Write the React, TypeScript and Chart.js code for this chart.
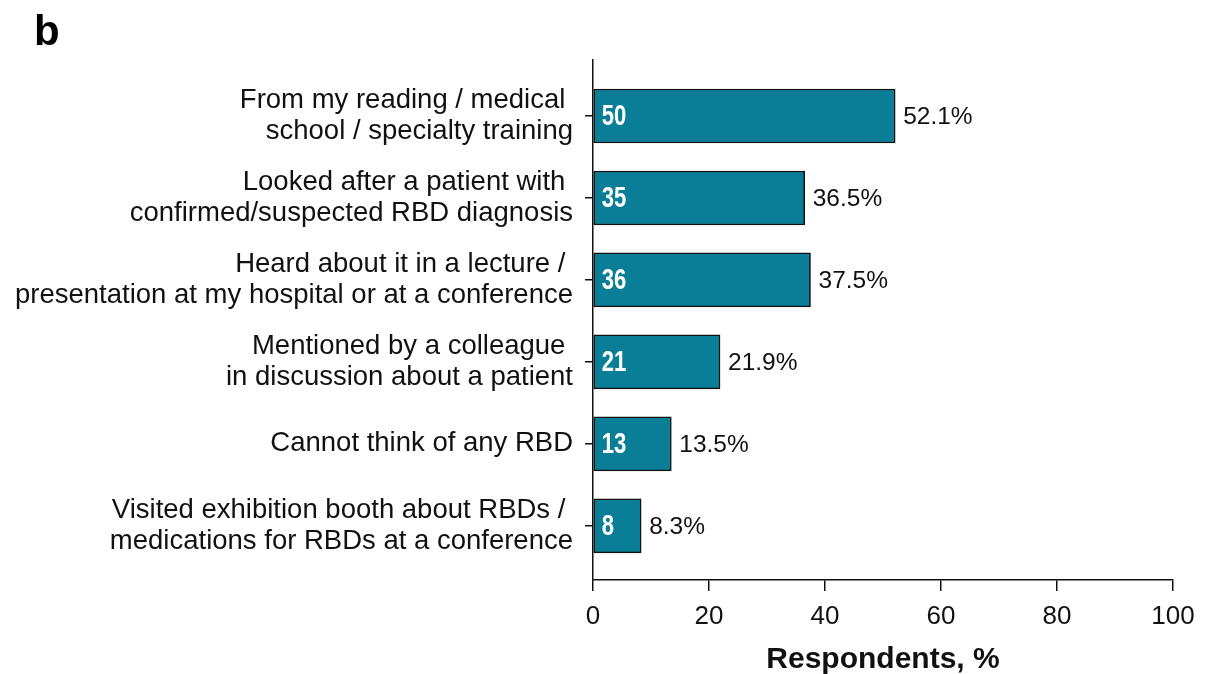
import React, { useEffect, useRef } from "react";
import { Chart, registerables } from "chart.js";

Chart.register(...registerables);

const categories: string[][] = [
  ["From my reading / medical ", "school / specialty training"],
  ["Looked after a patient with ", "confirmed/suspected RBD diagnosis"],
  ["Heard about it in a lecture / ", "presentation at my hospital or at a conference"],
  ["Mentioned by a colleague ", "in discussion about a patient"],
  ["Cannot think of any RBD"],
  ["Visited exhibition booth about RBDs / ", "medications for RBDs at a conference"],
];
const counts: number[] = [50, 35, 36, 21, 13, 8];
const percents: number[] = [52.1, 36.5, 37.5, 21.9, 13.5, 8.3];
const xTicks: number[] = [0, 20, 40, 60, 80, 100];

const FONT = "'Liberation Sans', Arial, Helvetica, sans-serif";
const BAR_COLOR = "#0a7e96";

const labelPlugin = {
  id: "barLabels",
  afterDatasetsDraw(chart: any) {
    const ctx = chart.ctx;
    const meta = chart.getDatasetMeta(0);
    ctx.save();
    meta.data.forEach((bar: any, i: number) => {
      ctx.textBaseline = "middle";
      ctx.textAlign = "left";
      ctx.save();
      ctx.translate(bar.base + 8, bar.y + 1);
      ctx.scale(0.76, 1);
      ctx.fillStyle = "#ffffff";
      ctx.font = `bold 29px ${FONT}`;
      ctx.fillText(String(counts[i]), 0, 0);
      ctx.restore();
      ctx.fillStyle = "#111111";
      ctx.font = `24.5px ${FONT}`;
      ctx.fillText(`${percents[i]}%`, bar.x + 8, bar.y + 1);
    });
    ctx.fillStyle = "#000000";
    ctx.font = `bold 42px ${FONT}`;
    ctx.textAlign = "left";
    ctx.textBaseline = "alphabetic";
    ctx.fillText("b", 34, 45);
    ctx.restore();
  },
};

export default function App() {
  const ref = useRef<HTMLCanvasElement | null>(null);
  useEffect(() => {
    if (!ref.current) return;
    const chart = new Chart(ref.current, {
      type: "bar",
      data: {
        datasets: [
          {
            data: percents.map((p, i) => ({ x: p, y: i })),
            backgroundColor: BAR_COLOR,
            borderColor: "#111111",
            borderWidth: 1.5,
            borderSkipped: false,
            barThickness: 54,
          } as any,
        ],
      },
      options: {
        indexAxis: "y",
        animation: false,
        responsive: true,
        maintainAspectRatio: false,
        layout: { padding: { top: 60, right: 32, left: 0, bottom: 0 } },
        plugins: {
          legend: { display: false },
          tooltip: { enabled: false },
          title: { display: false },
        },
        scales: {
          x: {
            type: "linear",
            min: 0,
            max: 100,
            offset: false,
            afterBuildTicks: (s: any) => {
              s.ticks = xTicks.map((v) => ({ value: v }));
            },
            afterFit: (s: any) => {
              s.height = 94;
            },
            grid: {
              offset: false,
              drawOnChartArea: false,
              drawTicks: true,
              tickLength: 11,
              color: "#111111",
              lineWidth: 1.5,
            },
            border: { display: true, color: "#111111", width: 1.5 },
            ticks: {
              color: "#111111",
              font: { family: FONT, size: 26 },
              padding: 10,
              maxRotation: 0,
            },
            title: {
              display: true,
              text: "Respondents, %",
              color: "#111111",
              font: { family: FONT, size: 30, weight: "bold" },
              padding: { top: 12, bottom: -4 },
            },
          },
          y: {
            type: "linear",
            min: -0.683,
            max: 5.66,
            reverse: true,
            offset: false,
            afterBuildTicks: (s: any) => {
              s.ticks = categories.map((_, i) => ({ value: i }));
            },
            afterFit: (s: any) => {
              s.width = 593;
            },
            grid: {
              offset: false,
              drawOnChartArea: false,
              drawTicks: true,
              tickLength: 8,
              color: "#111111",
              lineWidth: 1.5,
            },
            border: { display: true, color: "#111111", width: 1.5 },
            ticks: {
              autoSkip: false,
              color: "#111111",
              font: { family: FONT, size: 27.5, lineHeight: 1.1 },
              padding: 12,
              callback: (v: any) => categories[Math.round(Number(v))] as any,
            },
          },
        },
      } as any,
      plugins: [labelPlugin],
    });
    return () => chart.destroy();
  }, []);
  return (
    <div style={{ position: "fixed", left: 0, top: 0, width: 1205, height: 674, background: "#fff" }}>
      <canvas ref={ref} />
    </div>
  );
}
